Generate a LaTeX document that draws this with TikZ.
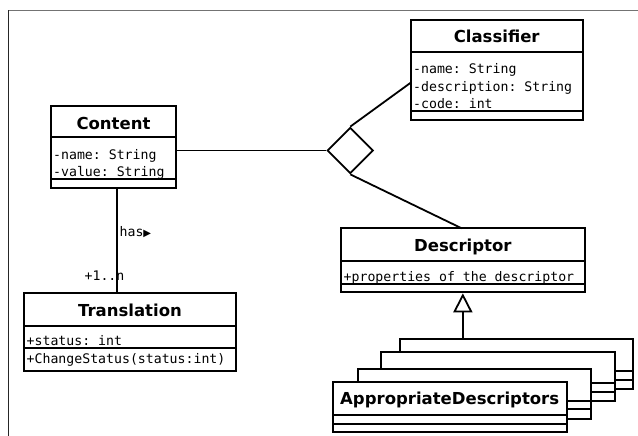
\documentclass[tikz,border=0pt]{standalone}
\usepackage{fontspec}
\setmainfont{DejaVu Sans}
\setmonofont{DejaVu Sans Mono}
\usetikzlibrary{shapes.geometric,arrows.meta}
\tikzset{
  classbox/.style={draw, line width=2pt, fill=white, inner sep=0pt, outer sep=0pt},
  sepline/.style={line width=2pt},
  title/.style={anchor=base, inner sep=0pt, font=\fontsize{16.5}{18}\selectfont\bfseries},
  attr/.style={anchor=base west, inner sep=0pt, font=\fontsize{13.2}{15}\selectfont\ttfamily},
  conn/.style={line width=1.8pt},
  frametop/.style={line width=1.6pt, draw=black!55},
  frameleft/.style={line width=1.6pt, draw=black!85},
}
\begin{document}
\begin{tikzpicture}[x=1pt, y=-1pt]
\useasboundingbox (0,0) rectangle (638,436);
% frame
\coordinate (fbl) at (8.5,436);
\coordinate (ftl) at (8.5,10.5);
\coordinate (ftr) at (638,10.5);
\draw[frametop] (ftl) -- (ftr);
\draw[frameleft] (fbl) -- (ftl);

% Content
\node[classbox, minimum width=124.7pt, minimum height=82pt] (content) at (113.35,147) {};
\draw[sepline] (content.west |- 0,137) -- (content.east |- 0,137);
\draw[sepline] (content.west |- 0,179.3) -- (content.east |- 0,179.3);
\node[title] (contentT) at (113.5,130) {Content};
\node[attr] (contentA1) at (53,159.3) {-name: String};
\node[attr] (contentA2) at (53,176.8) {-value: String};

% Classifier
\node[classbox, minimum width=172pt, minimum height=100pt] (clf) at (496.7,70) {};
\draw[sepline] (clf.west |- 0,52.3) -- (clf.east |- 0,52.3);
\draw[sepline] (clf.west |- 0,111) -- (clf.east |- 0,111);
\node[title] (clfT) at (496.7,42.7) {Classifier};
\node[attr] (clfA1) at (413,74) {-name: String};
\node[attr] (clfA2) at (413,91.5) {-description: String};
\node[attr] (clfA3) at (413,109) {-code: int};

% Descriptor
\node[classbox, minimum width=244.3pt, minimum height=64pt] (desc) at (462.85,260.3) {};
\draw[sepline] (desc.west |- 0,260.7) -- (desc.east |- 0,260.7);
\draw[sepline] (desc.west |- 0,284) -- (desc.east |- 0,284);
\node[title] (descT) at (462.85,251.7) {Descriptor};
\node[attr] (descA1) at (343.5,281.5) {+properties of the descriptor};

% Translation
\node[classbox, minimum width=212pt, minimum height=78pt] (trans) at (130,332.3) {};
\draw[sepline] (trans.west |- 0,325.7) -- (trans.east |- 0,325.7);
\draw[sepline] (trans.west |- 0,348) -- (trans.east |- 0,348);
\node[title] (transT) at (130,316) {Translation};
\node[attr] (transA1) at (26.5,345.7) {+status: int};
\node[attr] (transO1) at (26.5,363) {+ChangeStatus(status:int)};

% Diamond
\node[draw, diamond, line width=1.8pt, fill=white, inner sep=0pt, minimum width=46pt, minimum height=46pt] (dia) at (350.3,150.5) {};

% Stacked AppropriateDescriptors
\node[classbox, minimum width=233.3pt, minimum height=50pt] (ad4) at (516.65,364.2) {};
\draw[sepline] (ad4.west |- 0,371) -- (ad4.east |- 0,371);
\draw[sepline] (ad4.west |- 0,380) -- (ad4.east |- 0,380);
\node[classbox, minimum width=234.3pt, minimum height=49.6pt] (ad3) at (498.15,376.5) {};
\draw[sepline] (ad3.west |- 0,383.3) -- (ad3.east |- 0,383.3);
\draw[sepline] (ad3.west |- 0,392.3) -- (ad3.east |- 0,392.3);
\node[classbox, minimum width=233.6pt, minimum height=50pt] (ad2) at (474.5,393.7) {};
\draw[sepline] (ad2.west |- 0,401) -- (ad2.east |- 0,401);
\draw[sepline] (ad2.west |- 0,409.3) -- (ad2.east |- 0,409.3);
\node[classbox, minimum width=234pt, minimum height=50pt] (ad1) at (449.7,407) {};
\draw[sepline] (ad1.west |- 0,415) -- (ad1.east |- 0,415);
\draw[sepline] (ad1.west |- 0,424) -- (ad1.east |- 0,424);
\node[title] (ad1T) at (449.7,404.3) {AppropriateDescriptors};

% Connectors
\draw[conn] (content.east |- dia.west) -- (dia.west);
\draw[conn] (dia.north) -- ([yshift=-12.7pt]clf.west);
\draw[conn] (dia.south) -- ([xshift=-1.2pt]desc.north);
\draw[conn, -{Triangle[open, length=19pt, width=19pt, line width=1.8pt]}] (desc.south |- ad4.north) -- ([yshift=-1pt]desc.south);
\draw[conn] ([xshift=3.9pt]content.south) -- ([xshift=3.9pt]content.south |- trans.north)
  node[pos=0.465, anchor=base west, inner sep=0pt, xshift=1.5pt, font=\fontsize{13.2}{15}\selectfont] {\ttfamily has\rmfamily\fontsize{10}{12}\selectfont ▶}
  node[pos=0.88, anchor=base east, inner sep=0pt, xshift=8pt, font=\fontsize{13.2}{15}\selectfont\ttfamily] {+1..n};
\end{tikzpicture}
\end{document}
